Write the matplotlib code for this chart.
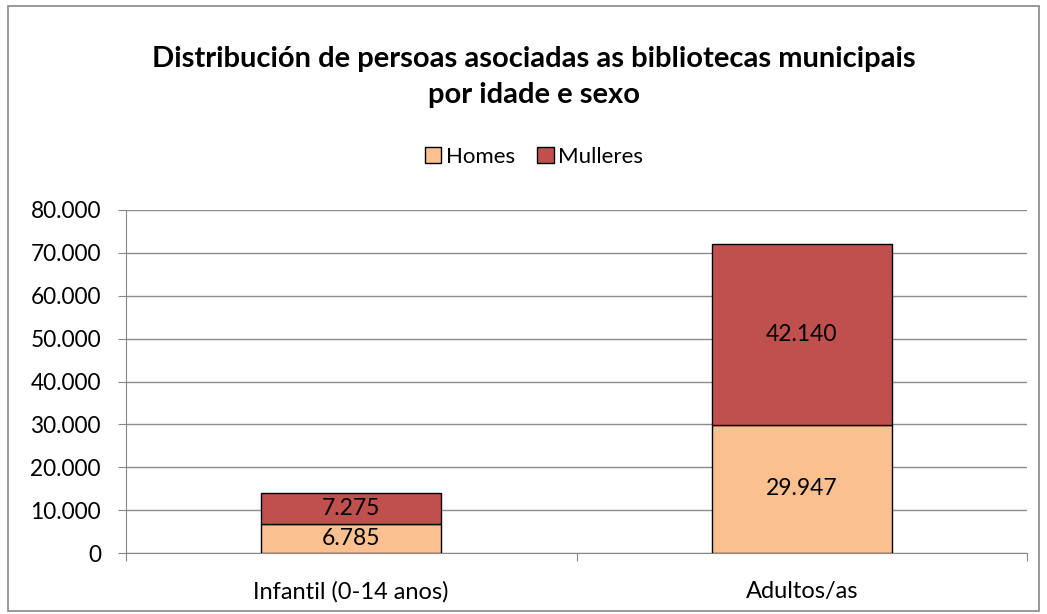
import matplotlib.pyplot as plt
from matplotlib.patches import Rectangle

plt.rcParams['font.family'] = ['Lato', 'DejaVu Sans']

# Datos
categorias = ['Infantil (0-14 anos)', 'Adultos/as']
homes = [6785, 29947]
mulleres = [7275, 42140]
cor_homes = '#FAC090'
cor_mulleres = '#C0504D'


def fmt(v):
    return f'{v:,.0f}'.replace(',', '.')


fig = plt.figure(figsize=(10.47, 6.14), dpi=100)
fig.patches.append(Rectangle((0.008, 0.005), 0.984, 0.985, transform=fig.transFigure,
                             fill=False, edgecolor='#888888', linewidth=1.2))

ax = fig.add_axes([0.1203, 0.0993, 0.8607, 0.5587])
x = [0.5, 1.5]
w = 0.4
b1 = ax.bar(x, homes, width=w, color=cor_homes, edgecolor='black', linewidth=1, label='Homes', zorder=3)
b2 = ax.bar(x, mulleres, width=w, bottom=homes, color=cor_mulleres, edgecolor='black',
            linewidth=1, label='Mulleres', zorder=3)

for i in range(len(x)):
    ax.text(x[i], homes[i] / 2, fmt(homes[i]), ha='center', va='center', fontsize=16.5, zorder=4)
    ax.text(x[i], homes[i] + mulleres[i] / 2, fmt(mulleres[i]), ha='center', va='center',
            fontsize=16.5, zorder=4)

ax.set_xlim(0, 2)
ax.set_ylim(0, 80000)
ax.set_yticks(range(0, 80001, 10000))
ax.set_yticklabels([fmt(v) for v in range(0, 80001, 10000)], fontsize=16.3)
ax.set_xticks([0, 1, 2])
ax.set_xticklabels([])
ax.set_xticks(x, minor=True)
ax.set_xticklabels(categorias, minor=True, fontsize=17)
ax.tick_params(axis='x', which='minor', length=0, pad=20)
ax.tick_params(axis='x', which='major', length=6, color='#888888', direction='out')
ax.tick_params(axis='y', length=6, color='#888888', direction='out', pad=12)
ax.grid(axis='y', color='#8c8c8c', linewidth=1, zorder=0)
for s in ['top', 'right']:
    ax.spines[s].set_visible(False)
for s in ['left', 'bottom']:
    ax.spines[s].set_color('#888888')

fig.text(0.51, 0.875, 'Distribución de persoas asociadas as bibliotecas municipais\npor idade e sexo',
         ha='center', va='center', fontsize=21, fontweight='bold', linespacing=1.5)

fig.legend(handles=[b1, b2], loc='center', bbox_to_anchor=(0.51, 0.745), ncol=2, frameon=False,
           fontsize=16, handlelength=0.75, handleheight=0.75, handletextpad=0.2, columnspacing=1.0)

fig.savefig('out.png', dpi=100)
